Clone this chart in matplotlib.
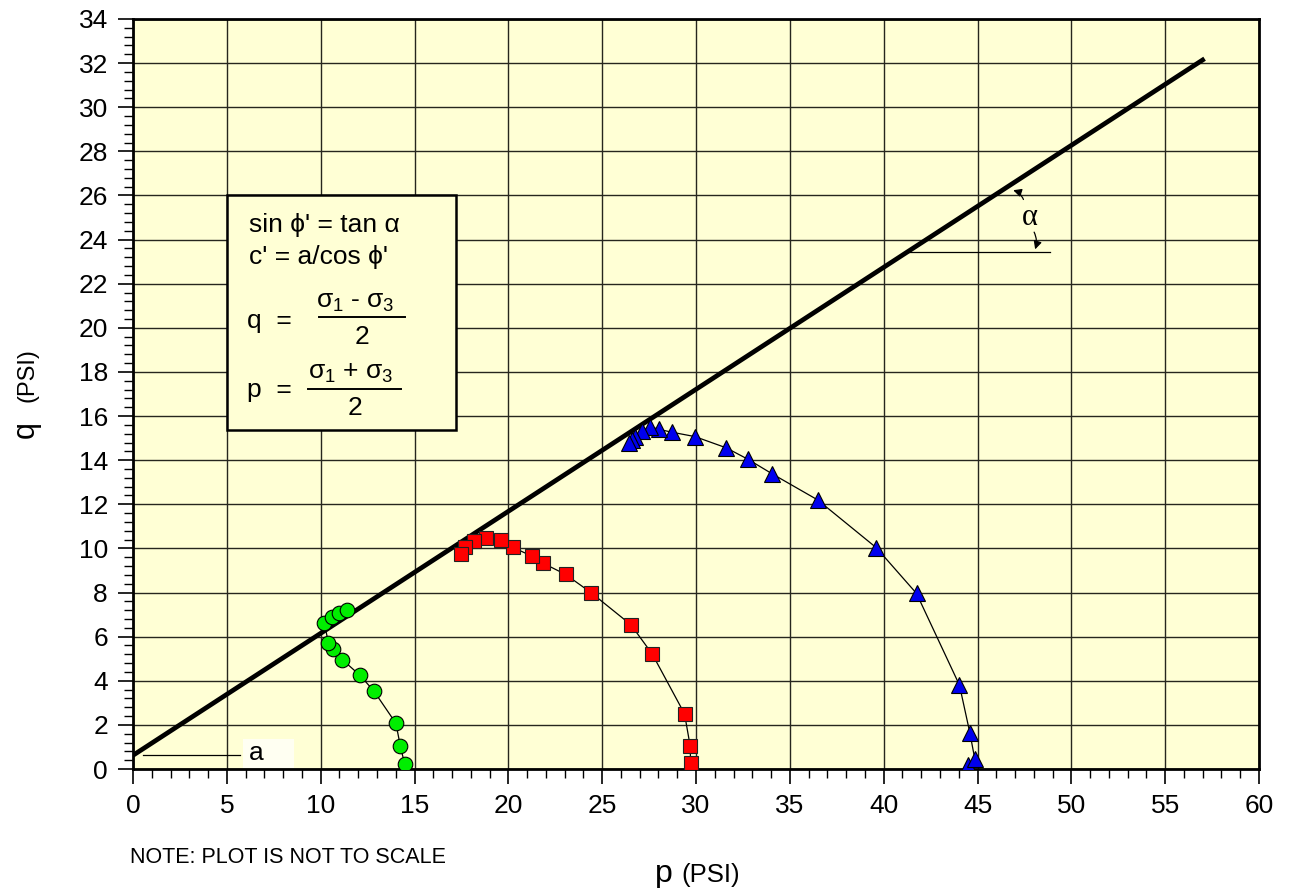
import numpy as np
import matplotlib.pyplot as plt
from matplotlib.ticker import MultipleLocator

plt.rcParams['font.family'] = ['Liberation Sans', 'DejaVu Sans']
plt.rcParams['mathtext.fontset'] = 'custom'
plt.rcParams['mathtext.rm'] = 'Liberation Sans'
plt.rcParams['mathtext.it'] = 'Liberation Sans'

# stress paths (p, q) in PSI
green_p = [14.47, 14.24, 14.01, 12.84, 12.09, 11.15, 10.64, 10.41, 10.19, 10.58, 10.97, 11.38]
green_q = [0.24, 1.06, 2.07, 3.53, 4.25, 4.96, 5.42, 5.73, 6.64, 6.90, 7.05, 7.20]

red_p = [29.71, 29.69, 29.39, 27.67, 26.53, 24.40, 23.05, 21.83, 21.26, 20.23, 19.59,
         18.79, 18.15, 17.69, 17.49]
red_q = [0.29, 1.04, 2.50, 5.21, 6.54, 8.00, 8.82, 9.34, 9.65, 10.05, 10.40,
         10.45, 10.35, 10.05, 9.76]

blue_p = [44.52, 44.86, 44.59, 44.04, 41.75, 39.61, 36.48, 34.06, 32.77, 31.61, 29.94,
          28.70, 28.02, 27.54, 27.10, 26.75, 26.57, 26.43]
blue_q = [0.18, 0.44, 1.65, 3.80, 7.96, 10.03, 12.20, 13.38, 14.04, 14.56, 15.07,
          15.27, 15.40, 15.52, 15.31, 15.07, 14.92, 14.77]

# failure envelope
env_p = [0.0, 57.1]
env_q = [0.62, 32.2]

bg = '#FFFFD5'
fig = plt.figure(figsize=(12.92, 8.88), dpi=100)
ax = fig.add_axes([133 / 1292, 1 - 769 / 888, 1126 / 1292, 750 / 888])
ax.set_facecolor(bg)

ax.set_xlim(0, 60)
ax.set_ylim(0, 34)
ax.xaxis.set_major_locator(MultipleLocator(5))
ax.xaxis.set_minor_locator(MultipleLocator(1))
ax.yaxis.set_major_locator(MultipleLocator(2))
ax.yaxis.set_minor_locator(MultipleLocator(0.4))
ax.grid(True, which='major', color='#26261e', lw=1.0)
ax.set_axisbelow(True)
ax.tick_params(which='major', direction='out', length=11, width=1.2, labelsize=19, pad=7)
ax.tick_params(which='minor', direction='out', length=6.5, width=1.0)
for s in ax.spines.values():
    s.set_linewidth(2.0)
    s.set_color('black')

ax.plot(env_p, env_q, color='black', lw=3.4, solid_capstyle='butt', zorder=3)

ax.plot(green_p, green_q, color='black', lw=0.9, zorder=4)
ax.plot(green_p, green_q, 'o', ms=10.5, mfc='#00EE00', mec='black', mew=0.8, zorder=5)
ax.plot(red_p, red_q, color='black', lw=0.9, zorder=4)
ax.plot(red_p, red_q, 's', ms=10, mfc='#FF0000', mec='#222222', mew=0.8, zorder=5)
ax.plot(blue_p, blue_q, color='black', lw=0.9, zorder=4)
ax.plot(blue_p, blue_q, '^', ms=11.5, mfc='#0000EE', mec='black', mew=0.8, zorder=5)

# formula box
ax.add_patch(plt.Rectangle((5.0, 15.37), 12.2, 10.63, facecolor=bg, edgecolor='black',
                           lw=1.8, zorder=6))
fs = 19
ax.text(6.2, 24.65, "sin ϕ' = tan α", fontsize=fs, va='center', zorder=7)
ax.text(6.2, 23.2, "c' = a/cos ϕ'", fontsize=fs, va='center', zorder=7)
ax.text(6.1, 20.33, "q  =", fontsize=fs, va='center', zorder=7)
ax.text(11.85, 21.15, r"$\sigma_1$ - $\sigma_3$", fontsize=fs, ha='center', va='center', zorder=7)
ax.plot([9.9, 14.5], [20.49, 20.49], color='black', lw=1.4, zorder=7)
ax.text(12.2, 19.6, "2", fontsize=fs, ha='center', va='center', zorder=7)
ax.text(6.1, 17.16, "p  =", fontsize=fs, va='center', zorder=7)
ax.text(11.6, 17.95, r"$\sigma_1$ + $\sigma_3$", fontsize=fs, ha='center', va='center', zorder=7)
ax.plot([9.3, 14.3], [17.24, 17.24], color='black', lw=1.4, zorder=7)
ax.text(11.85, 16.35, "2", fontsize=fs, ha='center', va='center', zorder=7)

# intercept a
ax.add_patch(plt.Rectangle((5.85, 0.05), 2.75, 1.3, facecolor='#FFFFF2', edgecolor='none', zorder=5))
ax.plot([0.55, 5.7], [0.64, 0.64], color='black', lw=0.9, zorder=4)
ax.text(6.15, 0.72, "a", fontsize=fs, ha='left', va='center', zorder=6)

# angle alpha
ax.plot([41.3, 48.85], [23.44, 23.44], color='black', lw=0.9, zorder=4)
ax.text(47.8, 25.0, "α", fontsize=22, ha='center', va='center', family='Liberation Serif', zorder=6)
ax.annotate("", xy=(46.76, 26.27), xytext=(47.5, 25.7),
            arrowprops=dict(arrowstyle='-|>', color='black', lw=0.9, mutation_scale=12,
                            connectionstyle='arc3,rad=0.3'), zorder=6)
ax.annotate("", xy=(48.02, 23.44), xytext=(47.95, 24.45),
            arrowprops=dict(arrowstyle='-|>', color='black', lw=0.9, mutation_scale=12,
                            connectionstyle='arc3,rad=-0.25'), zorder=6)

# axis labels
fig.text(655 / 1292, 1 - 882 / 888, "p", fontsize=23, ha='left', va='baseline')
fig.text(681 / 1292, 1 - 882 / 888, "(PSI)", fontsize=18.5, ha='left', va='baseline')
fig.text(34 / 1292, 1 - 438 / 888, "q", fontsize=22, ha='left', va='baseline',
         rotation=90, rotation_mode='anchor')
fig.text(34 / 1292, 1 - 402 / 888, "(PSI)", fontsize=17, ha='left', va='baseline',
         rotation=90, rotation_mode='anchor')
fig.text(130 / 1292, 1 - 863 / 888, "NOTE: PLOT IS NOT TO SCALE", fontsize=15.5,
         ha='left', va='baseline')

fig.savefig('out.png', dpi=100, facecolor='white')
